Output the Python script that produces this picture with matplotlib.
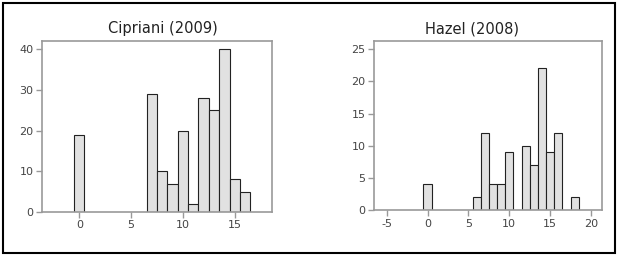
import matplotlib
matplotlib.use("Agg")
import matplotlib.pyplot as plt
from matplotlib.patches import Rectangle
from matplotlib import font_manager

# Data
cip_x = [0, 7, 8, 9, 10, 11, 12, 13, 14, 15, 16]
cip_counts = [19, 29, 10, 7, 20, 2, 28, 25, 40, 8, 5]
hazel_x = [0, 6, 7, 8, 9, 10, 12, 13, 14, 15, 16, 18]
hazel_counts = [4, 2, 12, 4, 4, 9, 10, 7, 22, 9, 12, 2]
cip_xticks = [0, 5, 10, 15]
cip_yticks = [0, 10, 20, 30, 40]
hazel_xticks = [-5, 0, 5, 10, 15, 20]
hazel_yticks = [0, 5, 10, 15, 20, 25]
titles = ["Cipriani (2009)", "Hazel (2008)"]

names = {f.name for f in font_manager.fontManager.ttflist}
tick_family = "Liberation Sans Narrow" if "Liberation Sans Narrow" in names else "DejaVu Sans"

fig = plt.figure(figsize=(6.19, 2.58), dpi=100)
fig.patch.set_facecolor("white")

# outer border
fig.patches.append(Rectangle((2.5 / 619, 1 - 253 / 258), 612.5 / 619, 250.5 / 258,
                             transform=fig.transFigure, fill=False,
                             edgecolor="black", linewidth=1.5))

specs = [
    ([42 / 619, 1 - 212 / 258, 230 / 619, 171 / 258], cip_x, cip_counts,
     cip_xticks, cip_yticks, (-3.6, 18.6), (0, 42.0), 163 / 619),
    ([374 / 619, 1 - 210.3 / 258, 227.7 / 619, 169 / 258], hazel_x, hazel_counts,
     hazel_xticks, hazel_yticks, (-6.55, 21.3), (0, 26.2), 472 / 619),
]

frame_col = "#999999"
for (pos, xs, ys, xt, yt, xl, yl, tx), title in zip(specs, titles):
    ax = fig.add_axes(pos)
    ax.bar(xs, ys, width=1.0, align="center", color="#e1e1e1",
           edgecolor="#222222", linewidth=0.8, zorder=2)
    ax.set_xlim(*xl)
    ax.set_ylim(*yl)
    ax.set_xticks(xt)
    ax.set_yticks(yt)
    ax.set_xticklabels([str(v) for v in xt], family=tick_family)
    ax.set_yticklabels([str(v) for v in yt], family=tick_family)
    for s in ax.spines.values():
        s.set_color(frame_col)
        s.set_linewidth(1.2)
    ax.tick_params(axis="both", colors=frame_col, labelcolor="#444444",
                   labelsize=8, length=4, width=1.0, pad=2)
    fig.text(tx, 1 - 33 / 258, title, ha="center", va="baseline",
             fontsize=10.5, color="#222222")

fig.savefig("out.png", dpi=100, facecolor="white")
